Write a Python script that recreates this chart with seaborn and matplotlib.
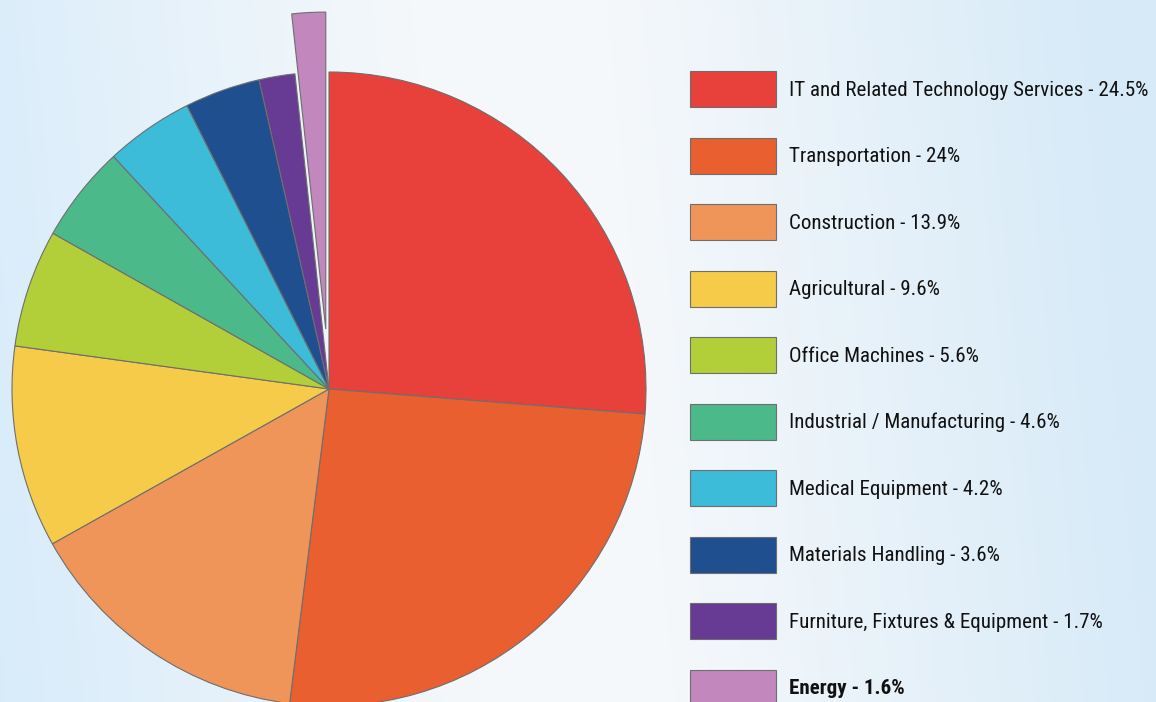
import numpy as np
import matplotlib
matplotlib.use("Agg")
import matplotlib.pyplot as plt
import matplotlib.font_manager as fm
import seaborn as sns

categories = ["IT and Related Technology Services", "Transportation", "Construction",
              "Agricultural", "Office Machines", "Industrial / Manufacturing",
              "Medical Equipment", "Materials Handling",
              "Furniture, Fixtures & Equipment", "Energy"]
shares = [24.5, 24, 13.9, 9.6, 5.6, 4.6, 4.2, 3.6, 1.7, 1.6]
share_labels = ["24.5%", "24%", "13.9%", "9.6%", "5.6%", "4.6%", "4.2%", "3.6%", "1.7%", "1.6%"]
colors = ["#e8403a", "#e95f30", "#ef955a", "#f6cb4a", "#b2cf3a",
          "#4cb98a", "#3cbcd8", "#1f4f8f", "#673a93", "#c287bd"]

sns.set_theme(style="white")

# pick a narrow font if one is installed
family = None
stretch = "normal"
for cand, st in [("Roboto Condensed", "normal"), ("Liberation Sans Narrow", "normal"),
                 ("DejaVu Sans", "condensed"), ("Liberation Sans", "normal")]:
    try:
        path = fm.findfont(fm.FontProperties(family=cand, stretch=st), fallback_to_default=False)
        if st == "condensed" and "Condensed" not in path:
            continue
        family, stretch = cand, st
        break
    except Exception:
        continue
if family is None:
    family = "DejaVu Sans"
plt.rcParams['font.family'] = [family, 'DejaVu Sans']
plt.rcParams['font.stretch'] = stretch
palette = sns.color_palette(colors)

W, H = 1156, 702
fig = plt.figure(figsize=(W / 100, H / 100), dpi=100)

# background gradient (light blue at both sides, near white in the middle)
bg = fig.add_axes([0, 0, 1, 1], zorder=-10)
xs = np.linspace(0, 1, 400)
ys = np.linspace(0, 1, 250)
X, Y = np.meshgrid(xs, ys)
t = X + 0.06 * (1 - Y)
left = np.array([0.847, 0.925, 0.98])
mid = np.array([0.962, 0.973, 0.984])
right = np.array([0.84, 0.918, 0.972])
w_left = np.clip(1 - t / 0.42, 0, 1)[..., None]
w_right = np.clip((t - 0.58) / 0.44, 0, 1)[..., None]
img = mid * (1 - w_left - w_right) + left * w_left + right * w_right
bg.imshow(np.clip(img, 0, 1), aspect="auto", extent=[0, 1, 0, 1])
bg.axis("off")

ax = fig.add_axes([0, 0, 1, 1])
ax.set_xlim(0, W)
ax.set_ylim(0, H)
ax.set_aspect("equal")
ax.axis("off")

explode = [0, 0, 0, 0, 0, 0, 0, 0, 0, 60]
wedges, _ = ax.pie(shares, colors=palette, startangle=90, counterclock=False,
                   center=(329, H - 389), radius=317, explode=explode,
                   wedgeprops=dict(edgecolor="#6e6e6e", linewidth=0.8),
                   frame=True)
ax.set_xlim(0, W)
ax.set_ylim(0, H)
ax.axis("off")

labels = [f"{c} - {p}" for c, p in zip(categories, share_labels)]

# size the font so the longest label spans ~361 px like the reference
renderer = fig.canvas.get_renderer()
probe = fig.text(0, 0, labels[0], fontsize=15)
wpx = probe.get_window_extent(renderer).width
probe.remove()
fs = min(15 * 360 / wpx, 16)
fs_px = fs * 100 / 72

hh = (36 / fs_px - 0.245) / 0.65
leg = ax.legend(wedges, labels, loc="upper left",
                bbox_to_anchor=(690 / W, 1 - 71 / H), bbox_transform=fig.transFigure,
                frameon=False, fontsize=fs, handlelength=86 / fs_px, handleheight=hh,
                labelspacing=30.5 / fs_px, handletextpad=13 / fs_px,
                borderpad=0, borderaxespad=0)
leg.get_texts()[-1].set_fontweight("bold")
for t_ in leg.get_texts():
    t_.set_color("#111111")

fig.savefig("out.png", dpi=100)
